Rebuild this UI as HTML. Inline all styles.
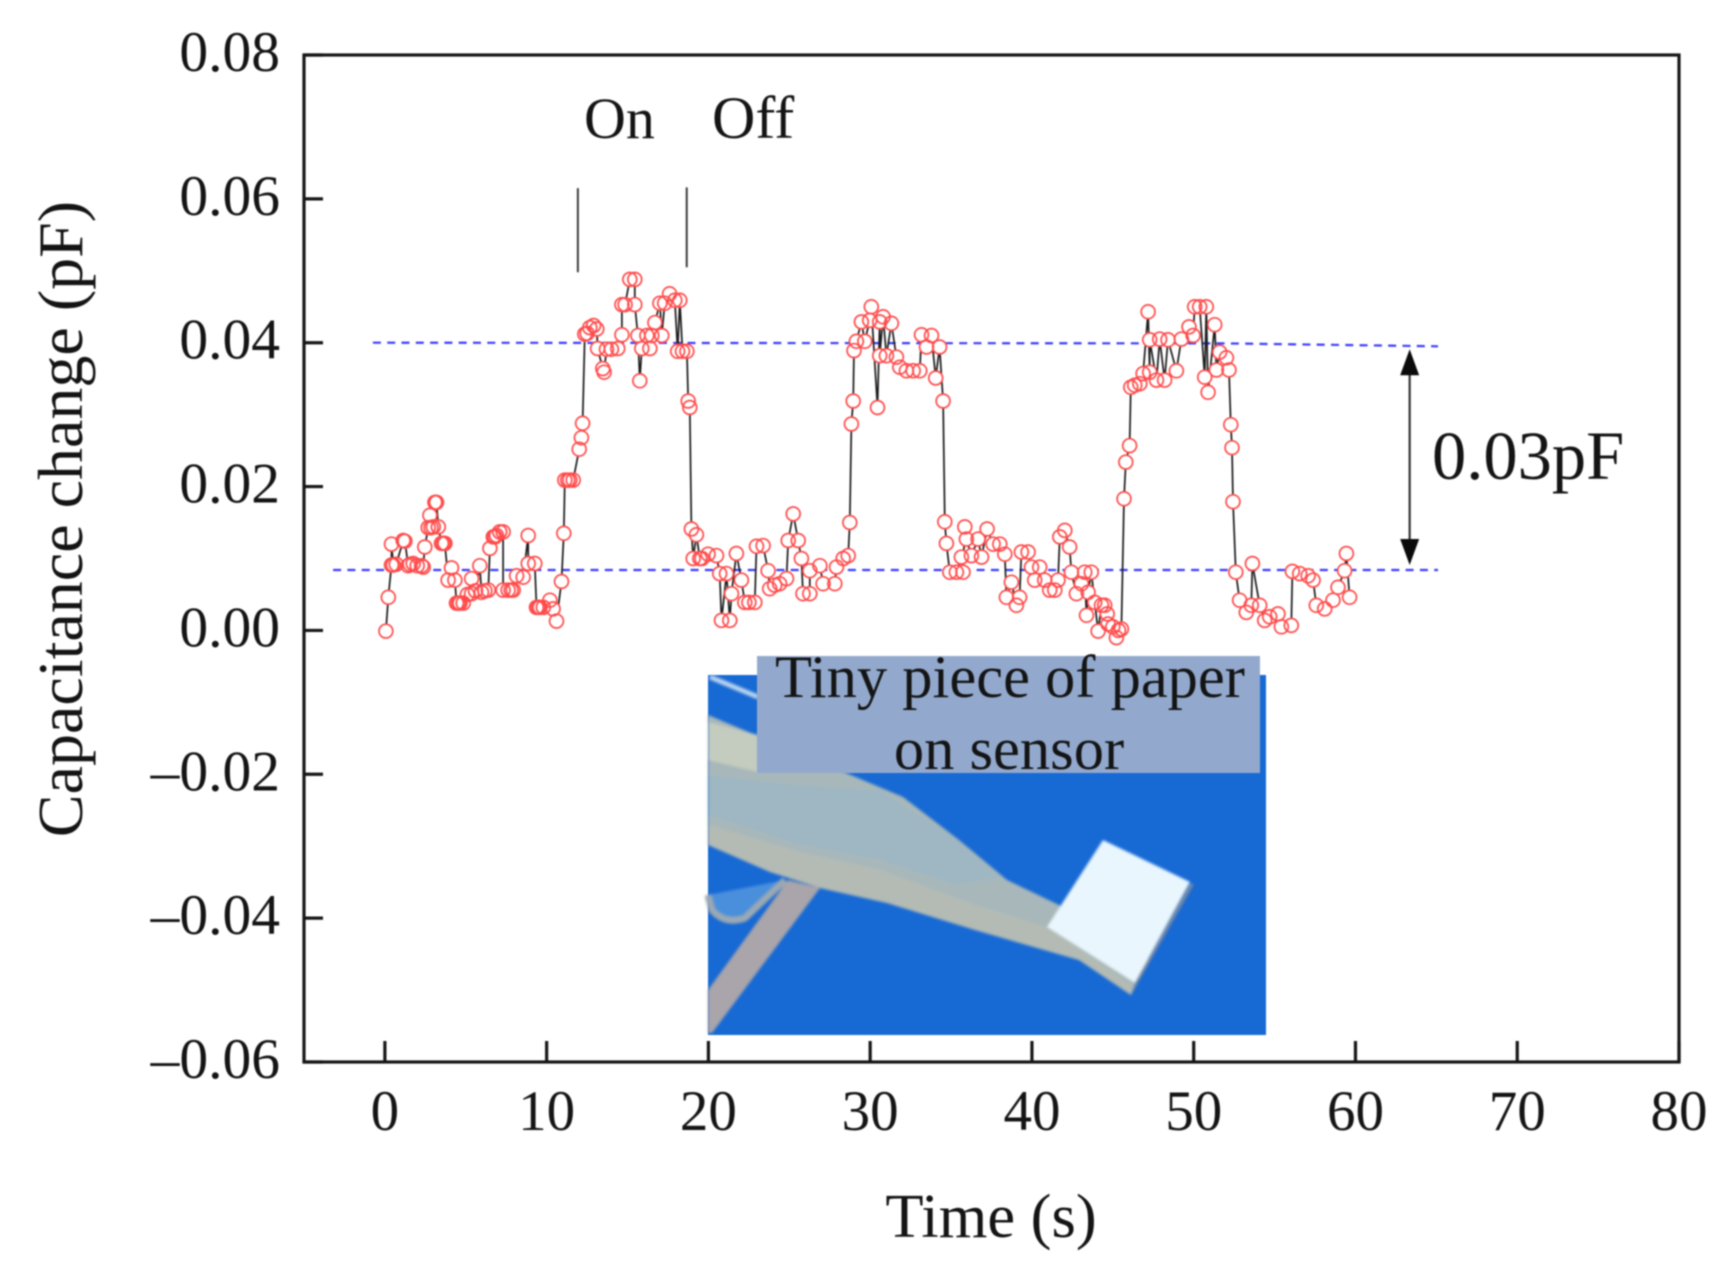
<!DOCTYPE html>
<html lang="en">
<head>
<meta charset="utf-8">
<title>Capacitance change over time</title>
<style>
html,body{margin:0;padding:0;background:#fff;width:1731px;height:1266px;overflow:hidden}
svg{display:block;filter:blur(0.7px)}
text{font-family:"Liberation Serif","Times New Roman",serif;fill:#141414}
</style>
</head>
<body>
<svg id="chart" xmlns="http://www.w3.org/2000/svg" width="1731" height="1266" viewBox="0 0 1731 1266">
  <rect x="0" y="0" width="1731" height="1266" fill="#ffffff"/>

  <g id="inset">
    <rect x="708" y="675" width="558" height="360" fill="#1769d4"/>
    <g style="filter:blur(1.3px)">
      <path d="M710 677L758 697" stroke="#b9d3ee" stroke-width="5" fill="none"/>
      <path d="M708 895L712 910Q725 925 745 918L785 880" stroke="#9aa8b4" stroke-width="7" fill="#4a8fdc"/>
      <polygon points="788,880 820,888 712,1033 708,1033 708,990" fill="#a9a5aa"/>
      <polygon points="708,715 839,770 903,797 959,840 1007,880 1059,905 1150,960 1131,995 1079,960 975,930 887,903 820,888 770,872 708,845" fill="#a8b8ba"/>
      <polygon points="708,775 800,785 880,790 950,835 1000,878 955,885 880,860 800,845 708,815" fill="#9fb7c2"/>
      <polygon points="708,825 800,852 880,870 975,905 1047,927 1131,985 1131,995 1079,960 975,930 887,903 820,888 770,872 708,845" fill="#b4bbb4"/>
      <polygon points="708,722 758,735 758,772 708,760" fill="#c4ccbf"/>
      <polygon points="1103,840 1190,882 1135,983 1047,927" fill="#e9f6fd"/>
      <polygon points="1190,884 1194,884 1148,965 1131,995 1135,983" fill="#7a8aa0"/>
    </g>
    <rect x="757" y="656" width="503" height="117" fill="#92a9cd"/>
    <text x="1010" y="697" font-size="60.5" text-anchor="middle">Tiny piece of paper</text>
    <text x="1009" y="769" font-size="60.5" text-anchor="middle">on sensor</text>
  </g>

  <g id="refs"></g>
  <g id="series-line"></g>
  <g id="marker-fills"></g>
  <g id="marker-rings"></g>
  <g id="axes"></g>

  <text x="991" y="1237" font-size="62.5" text-anchor="middle">Time (s)</text>
  <text x="0" y="0" font-size="64" text-anchor="middle" transform="translate(82 519) rotate(-90)">Capacitance change (pF)</text>
  <text x="584" y="138" font-size="58">On</text>
  <text x="712" y="138" font-size="60">Off</text>
  <text x="1432" y="479" font-size="68.5">0.03pF</text>
</svg>

<script>
const times = [
  0.06,0.21,0.41,0.41,0.52,0.70,1.13,1.24,1.44,1.55,
  1.75,2.00,2.27,2.37,2.47,2.68,2.78,2.85,2.99,3.09,
  3.19,3.30,3.50,3.61,3.71,3.91,4.12,4.33,4.43,4.54,
  4.64,4.84,5.10,5.36,5.36,5.60,5.87,5.97,6.18,6.39,
  6.49,6.70,6.80,6.90,7.10,7.31,7.31,7.62,7.80,7.93,
  8.14,8.55,8.86,8.86,9.27,9.37,9.48,9.58,9.79,10.20,
  10.40,10.61,10.92,11.06,11.12,11.30,11.43,11.64,12.01,12.15,
  12.22,12.36,12.50,12.67,12.90,13.10,13.15,13.47,13.55,13.70,
  14.00,14.40,14.65,14.65,14.85,15.14,15.45,15.45,15.64,15.76,
  15.88,16.20,16.38,16.50,16.69,17.00,17.12,17.30,17.60,17.92,
  18.10,18.23,18.40,18.67,18.75,18.85,18.95,19.06,19.26,19.47,
  19.60,19.98,20.50,20.70,20.81,21.12,21.32,21.43,21.73,22.04,
  22.25,22.50,22.87,22.97,23.38,23.69,23.79,24.10,24.40,24.83,
  24.93,25.24,25.55,25.75,25.85,26.27,26.27,26.89,27.09,27.81,
  27.92,28.33,28.64,28.74,28.84,28.95,29.00,29.15,29.46,29.67,
  29.97,30.07,30.45,30.59,30.59,30.80,31.00,31.31,31.62,31.83,
  32.24,32.66,33.07,33.17,33.48,33.79,34.05,34.29,34.51,34.61,
  34.71,34.92,35.33,35.64,35.74,35.85,35.95,36.26,36.67,36.88,
  37.23,37.60,38.01,38.32,38.42,38.73,39.04,39.24,39.35,39.76,
  39.97,40.17,40.48,40.79,41.10,41.41,41.61,41.72,42.03,42.33,
  42.44,42.75,43.06,43.26,43.37,43.47,43.67,43.88,44.09,44.30,
  44.50,44.65,44.71,45.00,45.22,45.35,45.53,45.69,45.80,46.04,
  46.11,46.35,46.67,46.87,47.18,47.28,47.28,47.70,47.90,48.20,
  48.41,48.93,49.24,49.71,49.96,50.06,50.37,50.68,50.78,50.89,
  51.30,51.40,51.60,52.02,52.18,52.29,52.37,52.43,52.60,52.84,
  53.25,53.56,53.63,54.08,54.39,54.70,55.21,55.42,56.03,56.10,
  56.55,57.07,57.38,57.58,58.10,58.61,58.92,59.33,59.44,59.64
];
const capacitance = [
  -0.0001,0.0046,0.0091,0.0120,0.0091,0.0092,0.0125,0.0124,0.0090,0.0092,
  0.0093,0.0090,0.0090,0.0088,0.0116,0.0143,0.0160,0.0143,0.0144,0.0178,
  0.0178,0.0144,0.0121,0.0121,0.0121,0.0070,0.0087,0.0070,0.0038,0.0038,
  0.0038,0.0038,0.0050,0.0072,0.0051,0.0055,0.0090,0.0053,0.0055,0.0056,
  0.0114,0.0130,0.0130,0.0132,0.0137,0.0137,0.0056,0.0056,0.0056,0.0056,
  0.0076,0.0074,0.0132,0.0093,0.0093,0.0032,0.0032,0.0032,0.0032,0.0042,
  0.0030,0.0013,0.0068,0.0135,0.0209,0.0209,0.0209,0.0209,0.0252,0.0268,
  0.0288,0.0412,0.0413,0.0421,0.0424,0.0419,0.0392,0.0364,0.0359,0.0391,
  0.0391,0.0392,0.0411,0.0453,0.0453,0.0488,0.0488,0.0453,0.0410,0.0347,
  0.0392,0.0410,0.0392,0.0410,0.0428,0.0455,0.0410,0.0455,0.0468,0.0459,
  0.0388,0.0459,0.0388,0.0388,0.0319,0.0310,0.0141,0.0100,0.0133,0.0100,
  0.0100,0.0106,0.0104,0.0079,0.0014,0.0079,0.0014,0.0051,0.0107,0.0070,
  0.0039,0.0039,0.0039,0.0117,0.0118,0.0083,0.0058,0.0063,0.0065,0.0072,
  0.0125,0.0162,0.0125,0.0100,0.0051,0.0051,0.0083,0.0090,0.0065,0.0065,
  0.0088,0.0100,0.0104,0.0150,0.0287,0.0319,0.0389,0.0402,0.0429,0.0402,
  0.0431,0.0450,0.0310,0.0429,0.0382,0.0436,0.0382,0.0427,0.0380,0.0366,
  0.0361,0.0361,0.0361,0.0411,0.0394,0.0410,0.0351,0.0394,0.0319,0.0151,
  0.0121,0.0081,0.0081,0.0102,0.0081,0.0144,0.0127,0.0104,0.0127,0.0102,
  0.0141,0.0120,0.0120,0.0106,0.0046,0.0067,0.0035,0.0046,0.0109,0.0109,
  0.0088,0.0070,0.0088,0.0070,0.0056,0.0056,0.0070,0.0130,0.0139,0.0116,
  0.0081,0.0051,0.0065,0.0081,0.0021,0.0053,0.0081,0.0039,-0.0001,0.0035,
  0.0035,0.0023,0.0009,0.0005,-0.0010,0.0000,0.0002,0.0183,0.0234,0.0257,
  0.0338,0.0341,0.0343,0.0357,0.0443,0.0359,0.0404,0.0348,0.0405,0.0348,
  0.0404,0.0361,0.0405,0.0422,0.0410,0.0450,0.0450,0.0352,0.0450,0.0331,
  0.0425,0.0362,0.0387,0.0379,0.0362,0.0286,0.0254,0.0179,0.0081,0.0042,
  0.0025,0.0035,0.0093,0.0035,0.0014,0.0019,0.0023,0.0005,0.0007,0.0082,
  0.0079,0.0076,0.0070,0.0035,0.0030,0.0042,0.0060,0.0083,0.0107,0.0046
];
const xTickValues = [0,10,20,30,40,50,60,70,80];
const yTickValues = [0.08,0.06,0.04,0.02,0,-0.02,-0.04,-0.06];
const yTickLabels = ["0.08","0.06","0.04","0.02","0.00","–0.02","–0.04","–0.06"];
const upperBandTimes = [-0.74,52,65.1];
const upperBandValues = [0.0400,0.0399,0.0395];
const lowerBandTimes = [-3.2,65.1];
const lowerBandValues = [0.0084,0.0084];
const eventTimes = [11.93,18.66];
const eventTopValues = [0.0615,0.0616];
const eventBottomValues = [0.0498,0.0505];
const deltaTime = 63.35;
const deltaTopValue = 0.0391;
const deltaBottomValue = 0.0091;

const NS = 'http://www.w3.org/2000/svg';
const plotLeft = 304, plotRight = 1679, plotTop = 55, plotBottom = 1062;
const xMin = -5, xMax = 80, yMin = -0.06, yMax = 0.08;

function sx(t){ return plotLeft + (t - xMin) / (xMax - xMin) * (plotRight - plotLeft); }
function sy(v){ return plotBottom - (v - yMin) / (yMax - yMin) * (plotBottom - plotTop); }
function make(tag, parent){
  const el = document.createElementNS(NS, tag);
  parent.appendChild(el);
  return el;
}
function pointString(ts, vs){
  return ts.map(function(t, i){ return sx(t).toFixed(1) + ',' + sy(vs[i]).toFixed(1); }).join(' ');
}

/* reference lines */
const refs = document.getElementById('refs');
const upperBand = make('polyline', refs);


upperBand.setAttribute('points', pointString(upperBandTimes, upperBandValues));
const lowerBand = make('polyline', refs);


lowerBand.setAttribute('points', pointString(lowerBandTimes, lowerBandValues));
[upperBand, lowerBand].forEach(function(line){
  line.setAttribute('fill', 'none');
  line.setAttribute('stroke', '#3c3cff');
  line.setAttribute('stroke-width', '2.2');
  line.setAttribute('stroke-dasharray', '8 6.3');
});

eventTimes.forEach(function(t, i){
  const mark = make('line', refs);
  
  
  mark.setAttribute('x1', sx(t));
  mark.setAttribute('x2', sx(t));
  mark.setAttribute('y1', sy(eventTopValues[i]));
  mark.setAttribute('y2', sy(eventBottomValues[i]));
  mark.setAttribute('stroke', '#333');
  mark.setAttribute('stroke-width', '1.9');
});

/* double-headed arrow */
const deltaX = sx(deltaTime), deltaTop = sy(deltaTopValue), deltaBottom = sy(deltaBottomValue);
const deltaShaft = make('line', refs);


deltaShaft.setAttribute('x1', deltaX);
deltaShaft.setAttribute('x2', deltaX);
deltaShaft.setAttribute('y1', deltaTop + 20);
deltaShaft.setAttribute('y2', deltaBottom - 20);
deltaShaft.setAttribute('stroke', '#333');
deltaShaft.setAttribute('stroke-width', '2.2');
const deltaHeadTop = make('polygon', refs);


deltaHeadTop.setAttribute('points', deltaX + ',' + deltaTop + ' ' + (deltaX + 9.5) + ',' + (deltaTop + 26) + ' ' + (deltaX - 9.5) + ',' + (deltaTop + 26));
deltaHeadTop.setAttribute('fill', '#0a0a0a');
const deltaHeadBottom = make('polygon', refs);


deltaHeadBottom.setAttribute('points', deltaX + ',' + deltaBottom + ' ' + (deltaX + 9.5) + ',' + (deltaBottom - 26) + ' ' + (deltaX - 9.5) + ',' + (deltaBottom - 26));
deltaHeadBottom.setAttribute('fill', '#0a0a0a');

/* series */
const seriesLine = make('polyline', document.getElementById('series-line'));


seriesLine.setAttribute('points', pointString(times, capacitance));
seriesLine.setAttribute('fill', 'none');
seriesLine.setAttribute('stroke', '#1c1c1c');
seriesLine.setAttribute('stroke-width', '1.7');

const fillLayer = document.getElementById('marker-fills');
const ringLayer = document.getElementById('marker-rings');
times.forEach(function(t, i){
  const fill = make('circle', fillLayer);
  
  
  fill.setAttribute('cx', sx(t).toFixed(1));
  fill.setAttribute('cy', sy(capacitance[i]).toFixed(1));
  fill.setAttribute('r', '7.6');
  fill.setAttribute('fill', '#ffffff');
  const ring = make('circle', ringLayer);
  
  
  ring.setAttribute('cx', sx(t).toFixed(1));
  ring.setAttribute('cy', sy(capacitance[i]).toFixed(1));
  ring.setAttribute('r', '6.9');
  ring.setAttribute('fill', 'none');
  ring.setAttribute('stroke', '#ff4a4a');
  ring.setAttribute('stroke-width', '1.7');
});

/* axes */
const axes = document.getElementById('axes');
const frame = make('rect', axes);


frame.setAttribute('x', plotLeft);
frame.setAttribute('y', plotTop);
frame.setAttribute('width', plotRight - plotLeft);
frame.setAttribute('height', plotBottom - plotTop);
frame.setAttribute('fill', 'none');
frame.setAttribute('stroke', '#161616');
frame.setAttribute('stroke-width', '3.2');

xTickValues.forEach(function(value){
  const tick = make('line', axes);
  
  
  tick.setAttribute('x1', sx(value));
  tick.setAttribute('x2', sx(value));
  tick.setAttribute('y1', plotBottom);
  tick.setAttribute('y2', plotBottom - 21);
  tick.setAttribute('stroke', '#161616');
  tick.setAttribute('stroke-width', '3.2');
  const label = make('text', axes);
  
  
  label.setAttribute('x', sx(value));
  label.setAttribute('y', 1130);
  label.setAttribute('font-size', '57');
  label.setAttribute('text-anchor', 'middle');
  label.textContent = String(value);
});

yTickValues.forEach(function(value, i){
  const tick = make('line', axes);
  
  
  tick.setAttribute('x1', plotLeft);
  tick.setAttribute('x2', plotLeft + 19);
  tick.setAttribute('y1', sy(value));
  tick.setAttribute('y2', sy(value));
  tick.setAttribute('stroke', '#161616');
  tick.setAttribute('stroke-width', '3.2');
  const label = make('text', axes);
  
  
  label.setAttribute('x', 280);
  label.setAttribute('y', sy(value) + 16);
  label.setAttribute('font-size', '57.5');
  label.setAttribute('text-anchor', 'end');
  label.textContent = yTickLabels[i];
});
</script>
</body>
</html>
